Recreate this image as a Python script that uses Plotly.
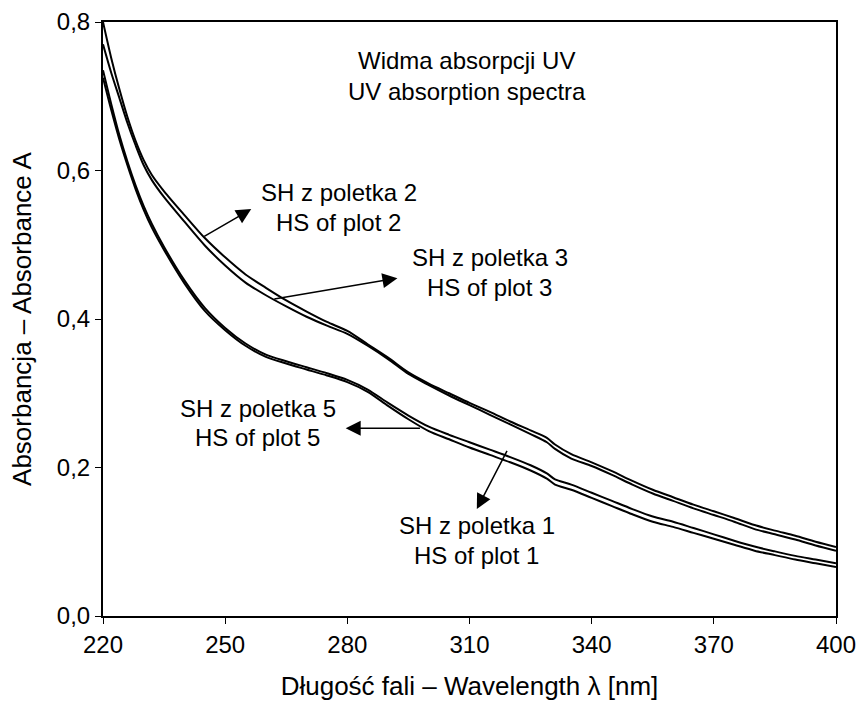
import plotly.graph_objects as go

# ---- data ----
wavelength = [220, 222, 224, 226, 228, 230, 232, 235, 240, 245, 250, 255, 260, 265, 270, 275,
              280, 285, 290, 295, 300, 305, 310, 315, 320, 325, 329, 331, 335, 340, 345, 350,
              355, 360, 365, 370, 375, 380, 385, 390, 395, 400]

plot2 = [0.800, 0.752, 0.710, 0.672, 0.640, 0.614, 0.594, 0.572, 0.540, 0.509, 0.483, 0.460,
         0.442, 0.425, 0.410, 0.396, 0.384, 0.366, 0.348, 0.328, 0.313, 0.300, 0.287, 0.275,
         0.262, 0.250, 0.240, 0.231, 0.218, 0.207, 0.195, 0.182, 0.170, 0.160, 0.150, 0.141,
         0.132, 0.1225, 0.115, 0.108, 0.100, 0.093]

plot3 = [0.770, 0.732, 0.698, 0.664, 0.634, 0.607, 0.587, 0.564, 0.531, 0.499, 0.472, 0.449,
         0.432, 0.417, 0.403, 0.391, 0.380, 0.364, 0.346, 0.326, 0.311, 0.297, 0.284, 0.271,
         0.258, 0.245, 0.234, 0.225, 0.212, 0.202, 0.190, 0.177, 0.165, 0.155, 0.145, 0.136,
         0.127, 0.117, 0.110, 0.103, 0.095, 0.088]

plot5 = [0.735, 0.690, 0.648, 0.612, 0.580, 0.552, 0.528, 0.497, 0.452, 0.415, 0.388, 0.367,
         0.352, 0.343, 0.335, 0.327, 0.318, 0.305, 0.287, 0.270, 0.255, 0.244, 0.234, 0.224,
         0.214, 0.203, 0.192, 0.184, 0.177, 0.166, 0.155, 0.144, 0.134, 0.127, 0.1185, 0.110,
         0.1014, 0.0935, 0.087, 0.081, 0.076, 0.071]

plot1 = [0.725, 0.682, 0.642, 0.607, 0.575, 0.547, 0.523, 0.493, 0.448, 0.411, 0.385, 0.364,
         0.349, 0.340, 0.332, 0.324, 0.315, 0.302, 0.283, 0.265, 0.249, 0.238, 0.227, 0.217,
         0.207, 0.196, 0.185, 0.177, 0.170, 0.159, 0.148, 0.137, 0.127, 0.120, 0.112, 0.104,
         0.096, 0.088, 0.082, 0.076, 0.071, 0.066]

series_names = ["SH z poletka 2", "SH z poletka 3", "SH z poletka 5", "SH z poletka 1"]
series_values = [plot2, plot3, plot5, plot1]

x_ticks = [220, 250, 280, 310, 340, 370, 400]
y_ticks = [0.0, 0.2, 0.4, 0.6, 0.8]

x_title = "Długość fali – Wavelength λ [nm]"
y_title = "Absorbancja – Absorbance A"

# label texts with their anchor (data coords) and arrow head / tail (data coords)
labels = [
    ("Widma absorpcji UV<br>UV absorption spectra", 309.5, 0.727),
    ("SH z poletka 2", 277.9, 0.570),
    ("HS of plot 2", 277.9, 0.530),
    ("SH z poletka 3", 315.0, 0.483),
    ("HS of plot 3", 315.0, 0.443),
    ("SH z poletka 5", 258.0, 0.279),
    ("HS of plot 5", 258.0, 0.240),
    ("SH z poletka 1", 311.8, 0.122),
    ("HS of plot 1", 311.8, 0.082),
]
arrows = [  # (head_x, head_y, tail_x, tail_y)
    (256.4, 0.548, 244.5, 0.510),
    (292.3, 0.455, 261.7, 0.4265),
    (279.6, 0.2528, 298.2, 0.2528),
    (311.8, 0.144, 319.4, 0.2245),
]

FONT = "Liberation Sans, Arial, sans-serif"

fig = go.Figure()
for name, vals in zip(series_names, series_values):
    fig.add_trace(go.Scatter(x=wavelength, y=vals, mode="lines", name=name,
                             line=dict(color="black", width=2, shape="spline", smoothing=0.8),
                             showlegend=False))

annotations = []
for text, lx, ly in labels:
    annotations.append(dict(x=lx, y=ly, xref="x", yref="y", text=text, showarrow=False,
                            font=dict(family=FONT, size=24, color="black"),
                            xanchor="center", yanchor="middle", align="center"))
for hx, hy, tx, ty in arrows:
    annotations.append(dict(x=hx, y=hy, xref="x", yref="y", ax=tx, ay=ty,
                            axref="x", ayref="y", text="", showarrow=True,
                            arrowhead=2, arrowsize=2, arrowwidth=1.5, arrowcolor="black",
                            standoff=0, startstandoff=0))

fig.update_layout(
    width=858, height=702, autosize=False,
    margin=dict(l=103, r=22, t=22, b=86, autoexpand=False),
    paper_bgcolor="white", plot_bgcolor="white",
    separators=", ",
    font=dict(family=FONT, size=24, color="black"),
    annotations=annotations,
)
fig.update_xaxes(range=[220, 400], tickvals=x_ticks, ticks="outside", ticklen=6, tickwidth=1,
                 tickcolor="black", showline=True, linecolor="black", linewidth=2, mirror=True,
                 showgrid=False, zeroline=False, automargin=False,
                 tickfont=dict(family=FONT, size=24),
                 title=dict(text=x_title, font=dict(family=FONT, size=26), standoff=20))
fig.update_yaxes(range=[0, 0.8], tickvals=y_ticks, tickformat=".1f", ticks="outside", ticklen=6,
                 tickwidth=1, tickcolor="black", showline=True, linecolor="black", linewidth=2,
                 mirror=True, showgrid=False, zeroline=False, automargin=False,
                 tickfont=dict(family=FONT, size=24),
                 title=dict(text=y_title, font=dict(family=FONT, size=26), standoff=18))

fig.write_html("out.html", config={"displayModeBar": False},
               post_script="document.body.style.margin='0';")
